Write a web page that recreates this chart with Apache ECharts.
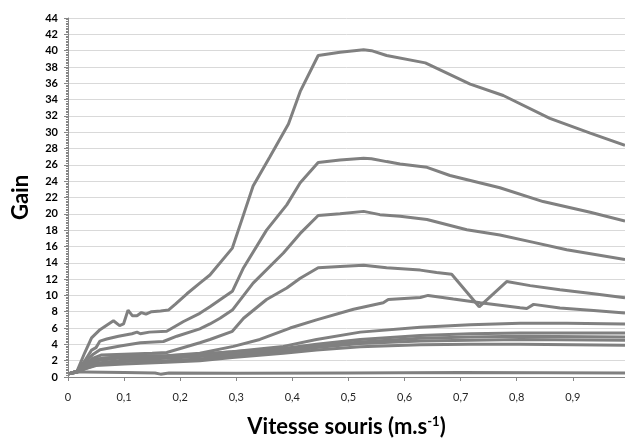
<!DOCTYPE html>
<html>
<head>
<meta charset="utf-8">
<script src="https://cdn.jsdelivr.net/npm/echarts@6/dist/echarts.min.js"></script>
<style>
  html, body { margin: 0; padding: 0; background: #fff; }
  #chart { width: 625px; height: 442px; }
</style>
</head>
<body>
<div id="chart"></div>
<script>
// Gain as a function of mouse speed, one curve per setting: [speed (m/s), gain]
const gain1 = [[0.002,0.4],[0.016,0.7],[0.03,3.0],[0.042,4.8],[0.057,5.8],[0.081,6.9],[0.092,6.3],[0.099,6.5],[0.107,8.2],[0.115,7.5],[0.123,7.5],[0.131,7.9],[0.139,7.7],[0.149,8.0],[0.165,8.1],[0.179,8.2],[0.191,8.9],[0.212,10.2],[0.235,11.5],[0.253,12.5],[0.293,15.8],[0.313,19.9],[0.330,23.4],[0.360,27.0],[0.393,31.0],[0.414,35.0],[0.446,39.4],[0.485,39.8],[0.527,40.1],[0.541,40.0],[0.568,39.4],[0.637,38.5],[0.717,35.9],[0.776,34.5],[0.859,31.7],[0.931,29.9],[0.993,28.4]];
const gain2 = [[0.002,0.4],[0.016,0.7],[0.03,2.0],[0.042,3.3],[0.050,3.6],[0.057,4.4],[0.069,4.65],[0.090,5.0],[0.114,5.3],[0.123,5.5],[0.129,5.3],[0.145,5.5],[0.176,5.6],[0.206,6.8],[0.235,7.8],[0.253,8.6],[0.293,10.5],[0.313,13.4],[0.354,18.0],[0.390,21.1],[0.414,23.8],[0.446,26.3],[0.485,26.6],[0.527,26.8],[0.541,26.75],[0.568,26.4],[0.592,26.1],[0.640,25.7],[0.681,24.7],[0.770,23.2],[0.847,21.5],[0.931,20.2],[0.993,19.1]];
const gain3 = [[0.002,0.4],[0.016,0.7],[0.03,1.8],[0.045,2.8],[0.057,3.35],[0.093,3.8],[0.129,4.2],[0.170,4.35],[0.194,5.0],[0.235,5.9],[0.253,6.5],[0.271,7.2],[0.293,8.2],[0.330,11.5],[0.384,15.2],[0.414,17.6],[0.446,19.8],[0.485,20.0],[0.527,20.3],[0.556,19.9],[0.592,19.7],[0.640,19.3],[0.711,18.05],[0.770,17.4],[0.830,16.5],[0.889,15.6],[0.993,14.4]];
const gain4 = [[0.002,0.4],[0.016,0.7],[0.03,1.5],[0.045,2.3],[0.06,2.7],[0.1,2.8],[0.15,2.9],[0.176,3.0],[0.235,4.2],[0.253,4.6],[0.293,5.6],[0.313,7.2],[0.354,9.5],[0.390,10.9],[0.414,12.1],[0.446,13.4],[0.485,13.55],[0.527,13.7],[0.568,13.4],[0.628,13.1],[0.657,12.8],[0.684,12.6],[0.733,8.6],[0.782,11.7],[0.824,11.2],[0.877,10.7],[0.937,10.2],[0.993,9.7]];
const gain5 = [[0.002,0.4],[0.016,0.7],[0.03,1.4],[0.05,2.2],[0.1,2.5],[0.15,2.6],[0.176,2.6],[0.235,2.9],[0.295,3.75],[0.342,4.6],[0.396,6.0],[0.443,7.0],[0.509,8.3],[0.562,9.1],[0.571,9.5],[0.628,9.75],[0.642,10.0],[0.687,9.55],[0.735,9.1],[0.806,8.5],[0.818,8.4],[0.830,8.9],[0.877,8.45],[0.937,8.15],[0.993,7.85]];
const gain6 = [[0.002,0.4],[0.016,0.7],[0.03,1.3],[0.05,2.0],[0.1,2.4],[0.176,2.5],[0.235,2.8],[0.293,3.1],[0.384,3.75],[0.443,4.6],[0.521,5.5],[0.628,6.1],[0.717,6.4],[0.806,6.6],[0.889,6.6],[0.993,6.5]];
const gain7 = [[0.002,0.4],[0.016,0.6],[0.03,1.2],[0.05,1.9],[0.06,2.3],[0.1,2.5],[0.176,2.6],[0.235,2.8],[0.293,3.1],[0.384,3.5],[0.443,4.0],[0.521,4.6],[0.628,5.1],[0.717,5.3],[0.806,5.4],[0.993,5.4]];
const gain8 = [[0.002,0.4],[0.016,0.6],[0.03,1.1],[0.05,1.7],[0.1,2.1],[0.176,2.3],[0.235,2.5],[0.293,2.8],[0.384,3.3],[0.443,3.8],[0.521,4.3],[0.628,4.75],[0.717,4.9],[0.806,5.0],[0.993,4.9]];
const gain9 = [[0.002,0.4],[0.016,0.6],[0.03,1.0],[0.05,1.5],[0.1,1.9],[0.176,2.0],[0.235,2.2],[0.293,2.6],[0.384,3.1],[0.443,3.6],[0.521,4.1],[0.628,4.4],[0.717,4.5],[0.806,4.6],[0.993,4.5]];
const gain10 = [[0.002,0.4],[0.016,0.6],[0.03,1.0],[0.05,1.4],[0.1,1.6],[0.176,1.8],[0.235,2.0],[0.293,2.4],[0.384,2.9],[0.443,3.3],[0.521,3.7],[0.628,3.95],[0.717,4.0],[0.806,4.0],[0.993,3.9]];
const gain11 = [[0.002,0.4],[0.016,0.6],[0.03,0.6],[0.1,0.55],[0.155,0.5],[0.165,0.35],[0.18,0.5],[0.3,0.45],[0.5,0.5],[0.7,0.55],[0.993,0.5]];

const curves = [gain1, gain2, gain3, gain4, gain5, gain6, gain7, gain8, gain9, gain10, gain11];

// Axis tick labels (French decimal comma)
const xTickLabels = ['0', '0,1', '0,2', '0,3', '0,4', '0,5', '0,6', '0,7', '0,8', '0,9'];
const yTickLabels = ['0','2','4','6','8','10','12','14','16','18','20','22','24','26','28','30','32','34','36','38','40','42','44'];

const FONT = 'Lato, "Open Sans", sans-serif';
const chart = echarts.init(document.getElementById('chart'), null, { renderer: 'canvas' });

chart.setOption({
  backgroundColor: '#ffffff',
  animation: false,
  grid: { left: 68, right: 0, top: 18, bottom: 65, containLabel: false, outerBoundsMode: 'none' },
  xAxis: {
    type: 'value',
    min: 0,
    max: 0.993,
    interval: 0.1,
    name: '{t|Vitesse souris (m.s}{s|-1}{t|)}',
    nameLocation: 'middle',
    nameGap: 38,
    nameTextStyle: {
      rich: {
        t: { fontFamily: FONT, fontSize: 22, fontWeight: 'bold', color: '#000' },
        s: { fontFamily: FONT, fontSize: 13, fontWeight: 'bold', color: '#000', verticalAlign: 'bottom', padding: [0, 0, 10, 0] }
      }
    },
    axisLine: { show: true, lineStyle: { color: '#868686', width: 1 } },
    axisTick: { show: true, length: 4, lineStyle: { color: '#868686' } },
    splitLine: { show: false },
    axisLabel: {
      showMaxLabel: false,
      margin: 15,
      fontFamily: FONT,
      fontSize: 11,
      color: '#262626',
      formatter: v => xTickLabels[Math.round(v * 10)] ?? ''
    }
  },
  yAxis: {
    type: 'value',
    min: 0,
    max: 44,
    interval: 2,
    name: 'Gain',
    nameLocation: 'middle',
    nameGap: 36,
    nameRotate: 90,
    nameTextStyle: { fontFamily: FONT, fontSize: 22, fontWeight: 'bold', color: '#000' },
    axisLine: { show: true, lineStyle: { color: '#868686', width: 1 } },
    axisTick: { show: true, length: 4, lineStyle: { color: '#868686' } },
    minorTick: { show: true, splitNumber: 10, length: 2, lineStyle: { color: '#868686' } },
    splitLine: { show: true, lineStyle: { color: '#d9d9d9', width: 1 } },
    axisLabel: {
      margin: 10,
      fontFamily: FONT,
      fontSize: 11,
      fontWeight: 'bold',
      color: '#000',
      formatter: v => yTickLabels[Math.round(v / 2)] ?? ''
    }
  },
  series: curves.map((d, i) => ({
    name: 'courbe ' + (i + 1),
    type: 'line',
    data: d,
    showSymbol: false,
    smooth: false,
    clip: true,
    lineStyle: { color: '#808080', width: 3 },
    itemStyle: { color: '#808080' }
  }))
});
</script>
</body>
</html>
